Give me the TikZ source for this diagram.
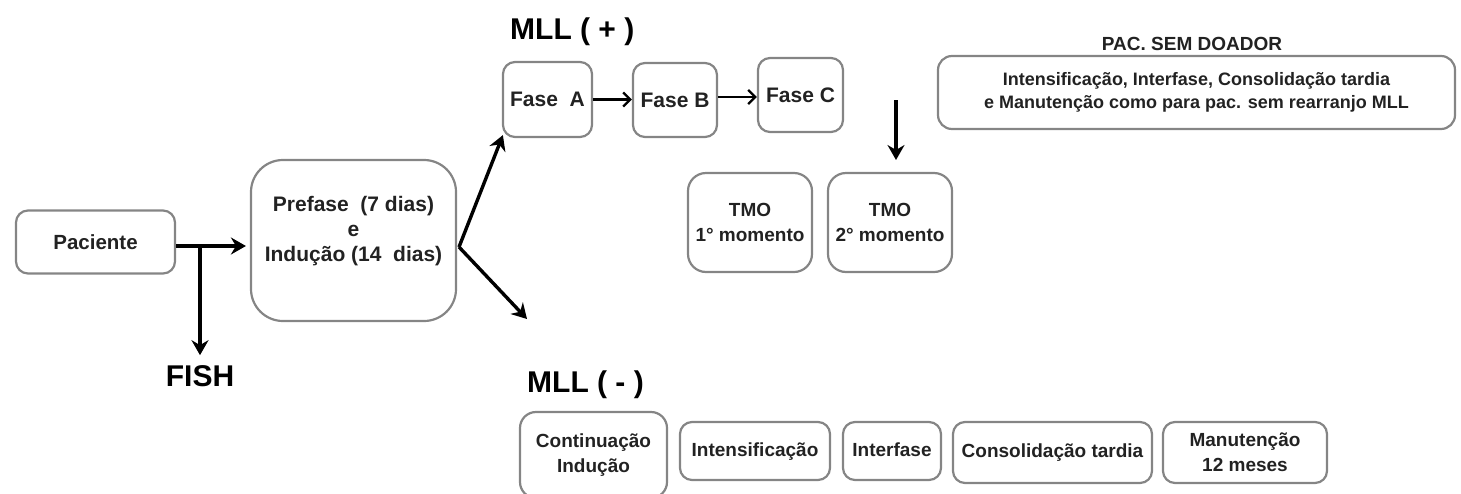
\documentclass[tikz,border=0pt]{standalone}
\usepackage{fontspec}
\setmainfont{Liberation Sans}
\usetikzlibrary{arrows.meta}
\definecolor{edge}{HTML}{858585}
\definecolor{ink}{HTML}{222222}
\begin{document}
\begin{tikzpicture}[x=1pt,y=-1pt,
  box/.style={draw=edge, line width=2.2pt, rounded corners=12pt, inner sep=0pt,
    align=center, text=ink, font=\fontsize{19}{25}\selectfont\bfseries},
  plain/.style={inner sep=0pt, align=center, text=ink, font=\fontsize{21}{25}\selectfont\bfseries},
  head/.style={inner sep=0pt, text=black, font=\fontsize{30}{32}\selectfont\bfseries},
  arr/.style={line width=3.4pt, -{Stealth[length=15pt,width=17pt,inset=5pt]}},
  thinarr/.style={line width=2.4pt, -{Straight Barb[length=7pt,width=14pt,line width=2.4pt]}}
]
\useasboundingbox (0,0) rectangle (1461,493);

% start and induction
\node[box, minimum width=159pt, minimum height=63pt, font=\fontsize{20.5}{25}\selectfont\bfseries] (pac) at (95.5,242) {Paciente};
\node[box, minimum width=205pt, minimum height=161pt, rounded corners=32pt] (pre) at (353.5,240.5) {};
\node[plain] (pretxt) at (353.5,231) {Prefase \ (7 dias)\\e\\Indução (14 \ dias)};
\node[head] (fish) at (200,376) {FISH};

\coordinate (j) at (200,246);
\draw[line width=3.4pt] (pac.east |- j) -- (j);
\draw[arr] (pac.east |- j) -- ([xshift=-4pt]pre.west |- j);
\draw[arr] (j) -- ([yshift=10pt]fish.north);

% MLL positive branch
\node[head, anchor=west] (mllp) at (510,32) {MLL ( + )};
\node[box, minimum width=89pt, minimum height=75pt, font=\fontsize{21}{25}\selectfont\bfseries] (fa) at (547.5,99.5) {Fase \ A};
\node[box, minimum width=84pt, minimum height=74pt, font=\fontsize{21}{25}\selectfont\bfseries] (fb) at (675,100) {Fase B};
\node[box, minimum width=85pt, minimum height=74pt, font=\fontsize{21}{25}\selectfont\bfseries] (fc) at (800.5,95) {Fase C};
\draw[thinarr] (fa.east) -- (fb.west |- fa.east);
\draw[thinarr] ([yshift=-2pt]fb.east |- fc.east) -- ([yshift=-2pt]fc.west);

\coordinate (d1) at (896,100);
\coordinate (d2) at (896,160);
\draw[arr] (d1) -- (d2);

\node[box, minimum width=124pt, minimum height=99pt, rounded corners=18pt] (tmo1) at (750,222.5) {TMO\\1° momento};
\node[box, minimum width=124pt, minimum height=99pt, rounded corners=18pt] (tmo2) at (890,222.5) {TMO\\2° momento};

\node[plain, font=\fontsize{19}{20}\selectfont\bfseries] (semd) at (1192,44) {PAC. SEM DOADOR};
\node[box, minimum width=517pt, minimum height=73pt, rounded corners=14pt,
  font=\fontsize{18}{23}\selectfont\bfseries] (pacs) at (1196.5,92.5)
  {Intensificação, Interfase, Consolidação tardia\\e Manutenção como para pac. sem rearranjo MLL};

% split after induction
\coordinate (v) at (459,247);
\draw[arr] (v) -- ([xshift=1pt,yshift=3pt]fa.south west);
\coordinate (low) at (527,319);
\draw[arr] (v) -- (low);

% MLL negative branch
\node[head, anchor=west] (mlln) at (527,385) {MLL ( - )};
\node[box, minimum width=147pt, minimum height=86pt, rounded corners=16pt] (cont) at (593.5,455) {Continuação\\Indução};
\node[box, minimum width=150pt, minimum height=58pt, text depth=3pt] (int) at (755,451) {Intensificação};
\node[box, minimum width=98pt, minimum height=58pt, text depth=3pt] (itf) at (892,451) {Interfase};
\node[box, minimum width=199pt, minimum height=61pt, text depth=3pt] (cons) at (1052.5,452.5) {Consolidação tardia};
\node[box, minimum width=164pt, minimum height=61pt] (man) at (1245,452.5) {Manutenção\\12 meses};
\end{tikzpicture}
\end{document}
